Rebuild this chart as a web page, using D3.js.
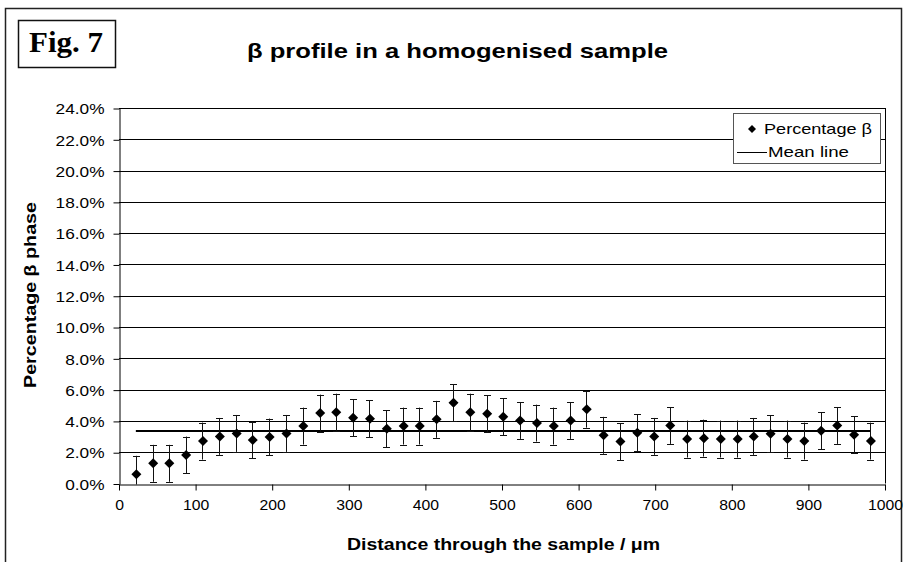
<!DOCTYPE html>
<html>
<head>
<meta charset="utf-8">
<script src="https://cdn.jsdelivr.net/npm/d3@7"></script>
<style>
  body { margin: 0; background: #fff; }
  svg { display: block; font-family: "Liberation Sans", Arial, sans-serif; }
</style>
</head>
<body>
<div id="chart"></div>
<script>
// distance through the sample (um), one point per measurement
var distances = [22, 44, 65, 87, 109, 131, 153, 174, 196, 218, 240, 262, 283, 305, 327,
                 349, 371, 392, 414, 436, 458, 480, 501, 523, 545, 567, 589, 610, 632, 654,
                 676, 698, 719, 741, 763, 785, 807, 828, 850, 872, 894, 916, 937, 959, 981];
// percentage beta phase
var betaPct = [0.59, 1.29, 1.29, 1.82, 2.71, 3.01, 3.20, 2.78, 2.97, 3.20, 3.67, 4.50, 4.56, 4.20, 4.14,
               3.50, 3.67, 3.67, 4.10, 5.16, 4.56, 4.46, 4.27, 4.03, 3.86, 3.67, 4.03, 4.75, 3.08, 2.68,
               3.25, 3.01, 3.71, 2.84, 2.90, 2.84, 2.84, 3.01, 3.18, 2.84, 2.71, 3.37, 3.71, 3.12, 2.71];
var errorPct = 1.18;
var meanPct = 3.35;
var xTicks = [0, 100, 200, 300, 400, 500, 600, 700, 800, 900, 1000];
var yTicks = [0, 2, 4, 6, 8, 10, 12, 14, 16, 18, 20, 22, 24];

var W = 904, H = 562;
var plot = {left: 119, right: 885, top: 108, bottom: 483.5};

var svg = d3.select('#chart').append('svg').attr('width', W).attr('height', H);

// the original text is rendered a bit wider than Arial, stretch it to match
function widen(sel, k) {
  sel.each(function() {
    var len = this.getComputedTextLength();
    d3.select(this).attr('textLength', len * k).attr('lengthAdjust', 'spacingAndGlyphs');
  });
}

// outer frame
svg.append('rect')
  .attr('x', 5.5).attr('y', 8.5).attr('width', 896).attr('height', 570)
  .attr('fill', 'none').attr('stroke', '#222').attr('stroke-width', 1.5);

// Fig. 7 box
svg.append('rect')
  .attr('x', 18.5).attr('y', 20.5).attr('width', 97).attr('height', 47)
  .attr('fill', '#fff').attr('stroke', '#111').attr('stroke-width', 1.5);
svg.append('text')
  .attr('x', 29).attr('y', 52)
  .attr('font-family', '"Liberation Serif", "Times New Roman", serif')
  .attr('font-weight', 'bold').attr('font-size', 30)
  .attr('textLength', 74).attr('lengthAdjust', 'spacingAndGlyphs')
  .text('Fig. 7');

// title
svg.append('text')
  .attr('x', 247).attr('y', 58)
  .attr('font-weight', 'bold').attr('font-size', 21)
  .attr('textLength', 421).attr('lengthAdjust', 'spacingAndGlyphs')
  .text('\u03b2 profile in a homogenised sample');

var x = d3.scaleLinear().domain([0, 1000]).range([plot.left, plot.right]);
var y = d3.scaleLinear().domain([0, 24]).range([plot.bottom, plot.top]);

// gridlines
svg.append('g').selectAll('line').data(yTicks.slice(1)).enter().append('line')
  .attr('x1', plot.left).attr('x2', plot.right)
  .attr('y1', function(d) { return Math.round(y(d)) + 0.5; })
  .attr('y2', function(d) { return Math.round(y(d)) + 0.5; })
  .attr('stroke', '#000').attr('stroke-width', 1);

// right border of plot area
svg.append('line')
  .attr('x1', Math.round(plot.right) + 0.5).attr('x2', Math.round(plot.right) + 0.5)
  .attr('y1', y(24)).attr('y2', y(0))
  .attr('stroke', '#000');

// axes
var yAxis = d3.axisLeft(y).tickValues(yTicks).tickSizeInner(6).tickSizeOuter(0).tickPadding(9)
  .tickFormat(function(d) { return d3.format('.1f')(d) + '%'; });
var xAxis = d3.axisBottom(x).tickValues(xTicks).tickSizeInner(6).tickSizeOuter(0).tickPadding(9)
  .tickFormat(d3.format('d'));

var gy = svg.append('g').attr('transform', 'translate(' + (plot.left + 0.5) + ',0.5)').call(yAxis);
var gx = svg.append('g').attr('transform', 'translate(0,' + (Math.round(plot.bottom) + 0.5) + ')').call(xAxis);
[gx, gy].forEach(function(g) {
  g.selectAll('path, line').attr('stroke', '#000');
  g.selectAll('text').attr('font-family', '"Liberation Sans", Arial, sans-serif')
    .attr('font-size', 15).attr('fill', '#000');
});
gy.selectAll('text').attr('dy', '0.35em');
widen(gy.selectAll('text'), 1.15);
widen(gx.selectAll('text'), 1.05);

// axis titles
svg.append('text')
  .attr('transform', 'translate(36,' + 295 + ') rotate(-90)')
  .attr('x', -93)
  .attr('font-weight', 'bold').attr('font-size', 16)
  .attr('textLength', 186).attr('lengthAdjust', 'spacingAndGlyphs')
  .text('Percentage \u03b2 phase');
svg.append('text')
  .attr('x', 347).attr('y', 550)
  .attr('font-weight', 'bold').attr('font-size', 16)
  .attr('textLength', 313).attr('lengthAdjust', 'spacingAndGlyphs')
  .text('Distance through the sample / \u03bcm');

// clip to plot area
svg.append('clipPath').attr('id', 'plotclip').append('rect')
  .attr('x', plot.left).attr('y', plot.top).attr('width', plot.right - plot.left).attr('height', plot.bottom - plot.top + 1);

var points = distances.map(function(d, i) { return {x: d, v: betaPct[i]}; });
var marks = svg.append('g').attr('clip-path', 'url(#plotclip)');

// mean line
marks.append('line')
  .attr('x1', x(distances[0])).attr('x2', x(distances[distances.length - 1]))
  .attr('y1', y(meanPct)).attr('y2', y(meanPct))
  .attr('stroke', '#000').attr('stroke-width', 2);

// error bars
var eb = marks.selectAll('g.eb').data(points).enter().append('g').attr('class', 'eb');
eb.append('line')
  .attr('x1', function(d) { return Math.round(x(d.x)) + 0.5; })
  .attr('x2', function(d) { return Math.round(x(d.x)) + 0.5; })
  .attr('y1', function(d) { return y(d.v + errorPct); })
  .attr('y2', function(d) { return y(d.v - errorPct); })
  .attr('stroke', '#111');
[1, -1].forEach(function(s) {
  eb.append('line')
    .attr('x1', function(d) { return Math.round(x(d.x)) - 3; })
    .attr('x2', function(d) { return Math.round(x(d.x)) + 4; })
    .attr('y1', function(d) { return Math.round(y(d.v + s * errorPct)) + 0.5; })
    .attr('y2', function(d) { return Math.round(y(d.v + s * errorPct)) + 0.5; })
    .attr('stroke', '#111');
});

// diamond markers
function diamond(cx, cy, r) {
  return 'M' + cx + ',' + (cy - r) + 'L' + (cx + r) + ',' + cy + 'L' + cx + ',' + (cy + r) + 'L' + (cx - r) + ',' + cy + 'Z';
}
marks.selectAll('path.pt').data(points).enter().append('path').attr('class', 'pt')
  .attr('d', function(d) { return diamond(x(d.x) + 0.5, y(d.v), 5); })
  .attr('fill', '#000');

// legend
var lg = svg.append('g');
lg.append('rect')
  .attr('x', 733.5).attr('y', 113.5).attr('width', 147).attr('height', 50)
  .attr('fill', '#fff').attr('stroke', '#555');
lg.append('path').attr('d', diamond(752, 129, 4)).attr('fill', '#000');
lg.append('text').attr('x', 764).attr('y', 134).attr('font-size', 15)
  .attr('textLength', 108).attr('lengthAdjust', 'spacingAndGlyphs')
  .text('Percentage \u03b2');
lg.append('line').attr('x1', 737).attr('x2', 767).attr('y1', 152.5).attr('y2', 152.5)
  .attr('stroke', '#000').attr('stroke-width', 1);
lg.append('text').attr('x', 768).attr('y', 157).attr('font-size', 15)
  .attr('textLength', 81).attr('lengthAdjust', 'spacingAndGlyphs')
  .text('Mean line');
</script>
</body>
</html>
